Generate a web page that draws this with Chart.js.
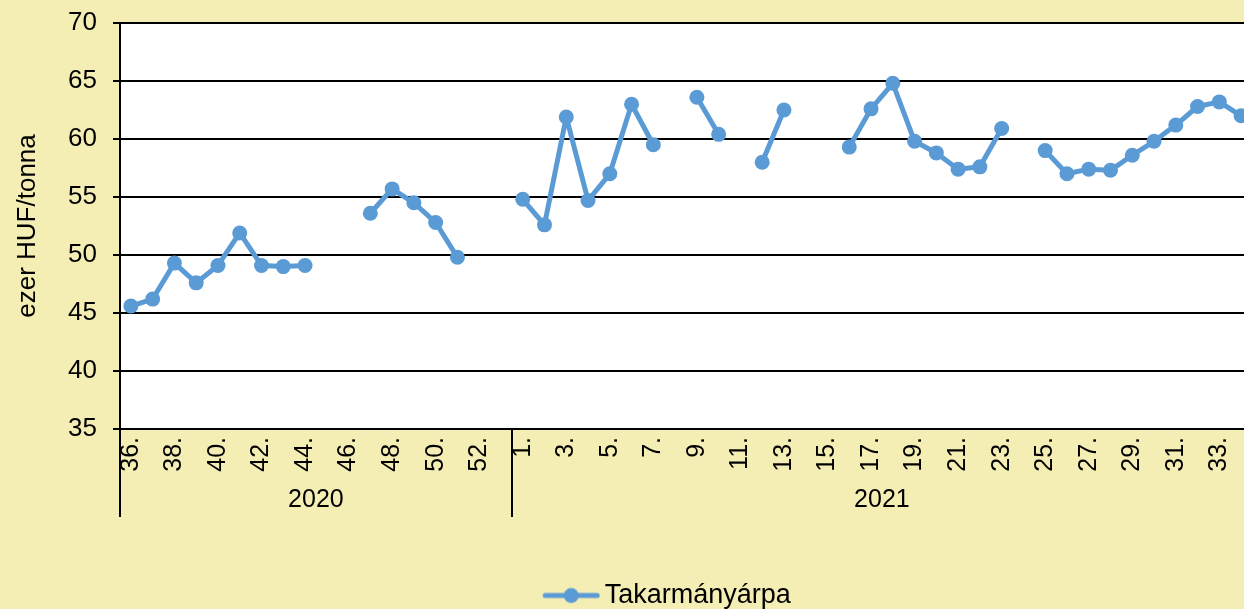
<!DOCTYPE html>
<html>
<head>
<meta charset="utf-8">
<script src="https://cdn.jsdelivr.net/npm/chart.js@4"></script>
<style>
    html, body { margin: 0; padding: 0; overflow: hidden; background: #f5eeb4; }
    #wrap { width: 1334px; height: 609px; }
</style>
</head>
<body>
<div id="wrap"><canvas id="priceChart" width="1334" height="609"></canvas></div>
<script>
// weeks: 2020/36 .. 2020/53, then 2021/1 .. 2021/34
const weeks = [
    '36.', '37.', '38.', '39.', '40.', '41.', '42.', '43.', '44.', '45.', '46.', '47.', '48.', '49.', '50.', '51.', '52.', '53.',
    '1.', '2.', '3.', '4.', '5.', '6.', '7.', '8.', '9.', '10.', '11.', '12.', '13.', '14.', '15.', '16.', '17.',
    '18.', '19.', '20.', '21.', '22.', '23.', '24.', '25.', '26.', '27.', '28.', '29.', '30.', '31.', '32.', '33.', '34.'
];
const years = ['2020', '2021'];
const yearWeekCount = [18, 34];

const barleyPrice = [
    45.6, 46.2, 49.3, 47.6, 49.1, 51.9, 49.1, 49.0, 49.1, null, null, 53.6, 55.7, 54.5, 52.8, 49.8, null, null,
    54.8, 52.6, 61.9, 54.7, 57.0, 63.0, 59.5, null, 63.6, 60.4, null, 58.0, 62.5, null, null, 59.3, 62.6,
    64.8, 59.8, 58.8, 57.4, 57.6, 60.9, null, 59.0, 57.0, 57.4, 57.3, 58.6, 59.8, 61.2, 62.8, 63.2, 62.0
];

const yTicks = { min: 35, max: 70, step: 5 };

const lineColor = '#5b9bd5';
const fontFamily = '"Liberation Sans", Arial, sans-serif';

// legend marker: line with a dot in the middle
const marker = document.createElement('canvas');
marker.width = 58;
marker.height = 18;
const mctx = marker.getContext('2d');
mctx.strokeStyle = lineColor;
mctx.lineWidth = 5;
mctx.lineCap = 'round';
mctx.beginPath();
mctx.moveTo(3, 9);
mctx.lineTo(55, 9);
mctx.stroke();
mctx.fillStyle = lineColor;
mctx.beginPath();
mctx.arc(29, 9, 7.5, 0, Math.PI * 2);
mctx.fill();

const plotBackground = {
    id: 'plotBackground',
    afterLayout(chart) {
        // centre the legend on the full chart width and drop it a little
        if (chart.legend) {
            chart.legend.right = chart.width + 8;
            chart.legend.top += 12;
            chart.legend.bottom += 12;
        }
    },
    beforeDraw(chart) {
        const { ctx, chartArea } = chart;
        ctx.save();
        ctx.fillStyle = '#ffffff';
        ctx.fillRect(chartArea.left, chartArea.top, chartArea.right - chartArea.left, chartArea.bottom - chartArea.top);
        ctx.restore();
    },
};

// year groups under the week labels
const yearGroups = {
    id: 'yearGroups',
    afterDraw(chart) {
        const { ctx, chartArea } = chart;
        const x = chart.scales.x;
        const step = x.getPixelForValue(1) - x.getPixelForValue(0);
        ctx.save();
        ctx.strokeStyle = '#000000';
        ctx.lineWidth = 2;
        ctx.fillStyle = '#000000';
        ctx.font = '25px ' + fontFamily;
        ctx.textAlign = 'center';
        ctx.textBaseline = 'middle';
        let start = 0;
        years.forEach((year, i) => {
            const left = x.getPixelForValue(start) - step / 2;
            const right = x.getPixelForValue(start + yearWeekCount[i] - 1) + step / 2;
            ctx.beginPath();
            ctx.moveTo(Math.round(left), chartArea.bottom);
            ctx.lineTo(Math.round(left), 517);
            ctx.stroke();
            ctx.fillText(year, (left + right) / 2, 500);
            start += yearWeekCount[i];
        });
        ctx.restore();
    },
};

new Chart(document.getElementById('priceChart'), {
    type: 'line',
    data: {
        labels: weeks,
        datasets: [
            {
                label: 'Takarmányárpa',
                data: barleyPrice,
                borderColor: lineColor,
                backgroundColor: lineColor,
                borderWidth: 5,
                borderJoinStyle: 'round',
                borderCapStyle: 'round',
                pointRadius: 7.5,
                pointBorderWidth: 0,
                pointHoverRadius: 7.5,
                spanGaps: false,
                tension: 0,
            },
        ],
    },
    options: {
        responsive: false,
        animation: false,
        layout: {
            padding: { top: 23, right: 82, bottom: 2, left: 0 },
        },
        plugins: {
            legend: {
                position: 'bottom',
                labels: {
                    color: '#000000',
                    font: { family: fontFamily, size: 27 },
                    usePointStyle: true,
                    pointStyleWidth: 40,
                    padding: 0,
                    generateLabels: (chart) => chart.data.datasets.map((ds, i) => ({
                        text: ds.label,
                        fillStyle: lineColor,
                        strokeStyle: lineColor,
                        lineWidth: 0,
                        pointStyle: marker,
                        datasetIndex: i,
                        hidden: false,
                    })),
                },
            },
            tooltip: { enabled: false },
        },
        scales: {
            x: {
                type: 'category',
                offset: true,
                grid: { display: false, drawTicks: false },
                border: { display: false },
                ticks: {
                    autoSkip: false,
                    maxRotation: 90,
                    minRotation: 90,
                    padding: 8,
                    color: '#000000',
                    font: { family: fontFamily, size: 25 },
                    callback: (value, index) => (index % 2 === 0 ? weeks[index] : ''),
                },
                afterFit: (scale) => {
                    const legendH = scale.chart.legend ? scale.chart.legend.height : 0;
                    scale.height = 609 - 429 - legendH - 2;
                },
            },
            y: {
                min: yTicks.min,
                max: yTicks.max,
                grid: {
                    color: '#000000',
                    lineWidth: 2,
                    tickLength: 7,
                },
                border: { color: '#000000', width: 2 },
                ticks: {
                    stepSize: yTicks.step,
                    padding: 16,
                    color: '#000000',
                    font: { family: fontFamily, size: 26 },
                },
                title: {
                    display: true,
                    text: 'ezer HUF/tonna',
                    color: '#000000',
                    font: { family: fontFamily, size: 26 },
                    padding: { top: 12, bottom: 0 },
                },
                afterFit: (scale) => {
                    scale.width = 120;
                    scale.paddingTop = 0;
                    scale.paddingBottom = 0;
                },
            },
        },
    },
    plugins: [plotBackground, yearGroups],
});
</script>
</body>
</html>
